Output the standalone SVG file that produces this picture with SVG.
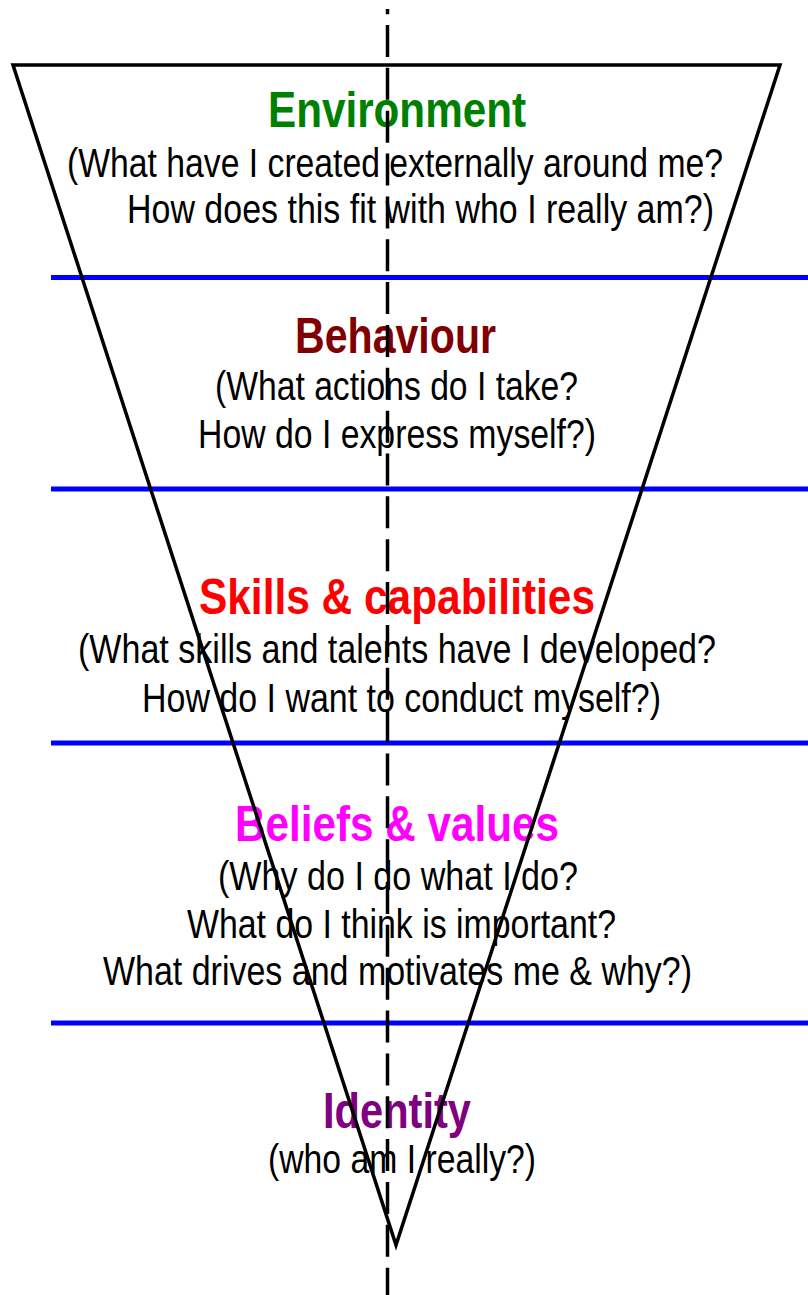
<svg xmlns="http://www.w3.org/2000/svg" width="808" height="1295" viewBox="0 0 808 1295">
  <style>
    .title { font-family: "Liberation Sans Narrow", "Liberation Sans", Arial, sans-serif; font-weight: bold; font-size: 50px; }
    .body { font-family: "Liberation Sans Narrow", "Liberation Sans", Arial, sans-serif; font-size: 40px; fill: #000; }
    .divider { stroke: #0000ff; stroke-width: 5; }
    .cone { fill: none; stroke: #000; stroke-width: 3.5; stroke-linejoin: miter; }
    .axis { stroke: #000; stroke-width: 3.5; stroke-dasharray: 32 10.85; stroke-dashoffset: 26.85; }
  </style>

  <!-- Logical levels, top to bottom -->
  <g id="environment">
    <text class="title" x="268" y="127" textLength="258" lengthAdjust="spacingAndGlyphs" fill="#008000">Environment</text>
    <text class="body" x="67" y="177" textLength="656" lengthAdjust="spacingAndGlyphs">(What have I created externally around me?</text>
    <text class="body" x="127" y="223" textLength="587" lengthAdjust="spacingAndGlyphs">How does this fit with who I really am?)</text>
  </g>

  <g id="behaviour">
    <text class="title" x="295" y="353" textLength="201" lengthAdjust="spacingAndGlyphs" fill="#800000">Behaviour</text>
    <text class="body" x="215" y="400" textLength="363" lengthAdjust="spacingAndGlyphs">(What actions do I take?</text>
    <text class="body" x="198" y="448" textLength="398" lengthAdjust="spacingAndGlyphs">How do I express myself?)</text>
  </g>

  <g id="skills">
    <text class="title" x="199" y="614" textLength="396" lengthAdjust="spacingAndGlyphs" fill="#ff0000">Skills &amp; capabilities</text>
    <text class="body" x="78" y="663" textLength="638" lengthAdjust="spacingAndGlyphs">(What skills and talents have I developed?</text>
    <text class="body" x="142" y="712" textLength="519" lengthAdjust="spacingAndGlyphs">How do I want to conduct myself?)</text>
  </g>

  <g id="beliefs">
    <text class="title" x="235" y="841" textLength="324" lengthAdjust="spacingAndGlyphs" fill="#ff00ff">Beliefs &amp; values</text>
    <text class="body" x="218" y="890" textLength="360" lengthAdjust="spacingAndGlyphs">(Why do I do what I do?</text>
    <text class="body" x="187" y="938" textLength="429" lengthAdjust="spacingAndGlyphs">What do I think is important?</text>
    <text class="body" x="103" y="985" textLength="589" lengthAdjust="spacingAndGlyphs">What drives and motivates me &amp; why?)</text>
  </g>

  <g id="identity">
    <text class="title" x="323" y="1128" textLength="148" lengthAdjust="spacingAndGlyphs" fill="#800080">Identity</text>
    <text class="body" x="268" y="1173" textLength="268" lengthAdjust="spacingAndGlyphs">(who am I really?)</text>
  </g>

  <!-- Cone outline, level dividers and central axis -->
  <g id="connectors">
    <line class="divider" x1="51" y1="277.5" x2="808" y2="277.5"/>
    <line class="divider" x1="51" y1="489" x2="808" y2="489"/>
    <line class="divider" x1="51" y1="743" x2="808" y2="743"/>
    <line class="divider" x1="51" y1="1023" x2="808" y2="1023"/>
    <polygon class="cone" points="13,65 780,65 396,1245"/>
    <line class="axis" x1="387.5" y1="9" x2="387.5" y2="1295"/>
  </g>
</svg>
